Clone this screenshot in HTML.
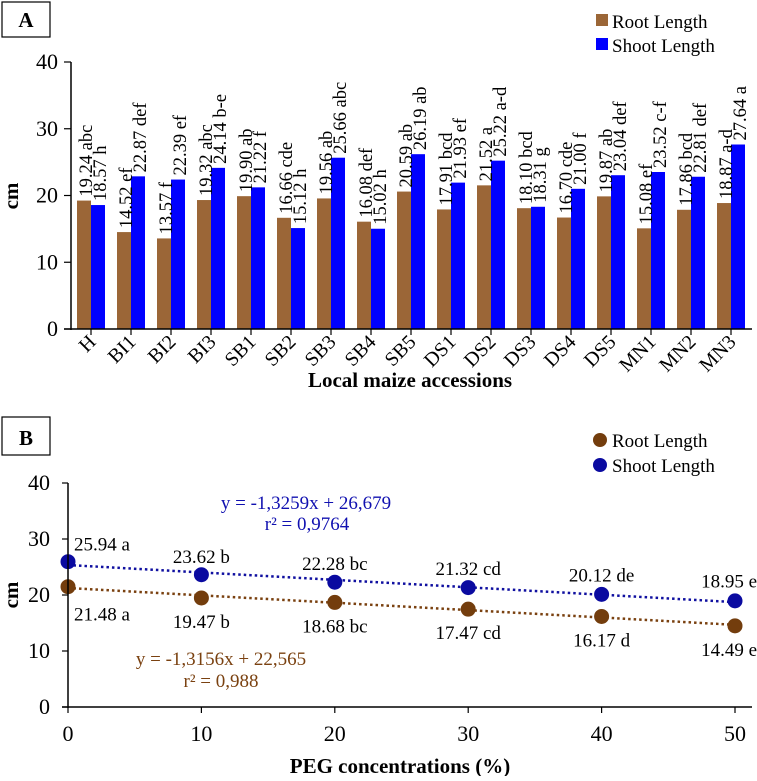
<!DOCTYPE html>
<html><head><meta charset="utf-8"><style>
body{margin:0;background:#fff;}
svg{font-family:"Liberation Serif",serif;}
</style></head><body>
<svg id="s" width="757" height="776" xmlns="http://www.w3.org/2000/svg"></svg>
<script>
const cats=["H","BI1","BI2","BI3","SB1","SB2","SB3","SB4","SB5","DS1","DS2","DS3","DS4","DS5","MN1","MN2","MN3"];
const rootVals=[19.24,14.52,13.57,19.32,19.90,16.66,19.56,16.08,20.59,17.91,21.52,18.10,16.70,19.87,15.08,17.86,18.87];
const shootVals=[18.57,22.87,22.39,24.14,21.22,15.12,25.66,15.02,26.19,21.93,25.22,18.31,21.00,23.04,23.52,22.81,27.64];
const rootLetters=["abc","ef","f","abc","ab","cde","ab","def","ab","bcd","a","bcd","cde","ab","ef","bcd","a-d"];
const shootLetters=["h","def","ef","b-e","f","h","abc","h","ab","ef","a-d","g","f","def","c-f","def","a"];
const yTicks=[0,10,20,30,40];
const pegX=[0,10,20,30,40,50];
const pegRoot=[21.48,19.47,18.68,17.47,16.17,14.49];
const pegShoot=[25.94,23.62,22.28,21.32,20.12,18.95];
const pegRootL=["a","b","bc","cd","d","e"];
const pegShootL=["a","b","bc","cd","de","e"];

const S=document.getElementById('s');
function el(t,a,txt){const e=document.createElementNS("http://www.w3.org/2000/svg",t);for(const k in a)e.setAttribute(k,a[k]);if(txt!=null)e.textContent=txt;S.appendChild(e);return e;}

// Panel A
const ay=v=>329-v*(267/40);
const ax=i=>91+i*40;
let e;
e=el('rect',{x:2,y:2,width:48,height:35,fill:'#fff',stroke:'#000','stroke-width':1.2});

e=el('text',{x:26,y:27,'font-size':21,'font-weight':'bold','text-anchor':'middle'},'A');

yTicks.forEach(t=>{
 e=el('line',{x1:64,x2:71,y1:ay(t),y2:ay(t),stroke:'#000','stroke-width':1.2});
 
 e=el('text',{x:58,y:ay(t)+7,'font-size':22,'text-anchor':'end'},t);
 
});
cats.forEach((c,i)=>{
 const x=ax(i);
 e=el('rect',{x:x-14,y:ay(rootVals[i]),width:14,height:ay(0)-ay(rootVals[i]),fill:'#9b6637'});
 
 e=el('rect',{x:x,y:ay(shootVals[i]),width:14,height:ay(0)-ay(shootVals[i]),fill:'#0000ff'});
 
 let ty=ay(rootVals[i])-4;
 e=el('text',{x:0,y:0,'font-size':18.5,transform:`translate(${x+1},${ty}) rotate(-90)`},rootVals[i].toFixed(2)+' '+rootLetters[i]);
 
 ty=ay(shootVals[i])-4;
 e=el('text',{x:0,y:0,'font-size':18.5,transform:`translate(${x+15},${ty}) rotate(-90)`},shootVals[i].toFixed(2)+' '+shootLetters[i]);
 
 e=el('line',{x1:x,x2:x,y1:329,y2:335,stroke:'#000','stroke-width':1.2});
 
 e=el('text',{x:0,y:0,'font-size':20,'text-anchor':'end',transform:`translate(${x+6},${343}) rotate(-45)`},c);
 
});
e=el('line',{x1:71,x2:71,y1:ay(40),y2:330,stroke:'#000','stroke-width':1.5});

e=el('line',{x1:64,x2:752,y1:329,y2:329,stroke:'#000','stroke-width':1.5});

e=el('text',{x:0,y:0,'font-size':21,'font-weight':'bold','text-anchor':'middle',transform:'translate(18,196) rotate(-90)'},'cm');

e=el('text',{x:410,y:387,'font-size':21,'font-weight':'bold','text-anchor':'middle'},'Local maize accessions');

e=el('rect',{x:596,y:14,width:12,height:12,fill:'#9b6637'});

e=el('text',{x:612,y:28,'font-size':19},'Root Length');

e=el('rect',{x:596,y:38,width:12,height:12,fill:'#0000ff'});

e=el('text',{x:612,y:52,'font-size':19},'Shoot Length');


// Panel B
const by=v=>707-v*(224/40);
const bx=v=>68+v*(667/50);
e=el('rect',{x:2,y:417,width:48,height:38,fill:'#fff',stroke:'#000','stroke-width':1.2});

e=el('text',{x:26,y:445,'font-size':21,'font-weight':'bold','text-anchor':'middle'},'B');

yTicks.forEach(t=>{
 e=el('line',{x1:62,x2:68,y1:by(t),y2:by(t),stroke:'#000','stroke-width':1.2});
 
 e=el('text',{x:50,y:by(t)+7,'font-size':22,'text-anchor':'end'},t);
 
});
pegX.forEach(v=>{
 e=el('line',{x1:bx(v),x2:bx(v),y1:707,y2:713,stroke:'#000','stroke-width':1.2});
 
 e=el('text',{x:bx(v),y:741,'font-size':22,'text-anchor':'middle'},v);
 
});
function fit(ys){const n=ys.length;let sx=0,sy=0,sxy=0,sxx=0;ys.forEach((y,i)=>{const x=i+1;sx+=x;sy+=y;sxy+=x*y;sxx+=x*x;});const m=(n*sxy-sx*sy)/(n*sxx-sx*sx);return [m,(sy-m*sx)/n];}
[[pegShoot,'#1010a0','shoot'],[pegRoot,'#7a4110','root']].forEach(([ys,col,nm])=>{
 const [m,b]=fit(ys);
 e=el('line',{x1:bx(pegX[0]),y1:by(m*1+b),x2:bx(pegX[pegX.length-1]),y2:by(m*pegX.length+b),stroke:col,'stroke-width':2.5,'stroke-dasharray':'2.5 3'});
 
});
pegX.forEach((v,i)=>{
 e=el('circle',{cx:bx(v),cy:by(pegShoot[i]),r:7.5,fill:'#0a0aa0'});
 
 e=el('circle',{cx:bx(v),cy:by(pegRoot[i]),r:7.5,fill:'#733d0d'});
 
 let sx=i===0?bx(v)+34:bx(v);
 const last=i===pegX.length-1;
 const anc=last?'end':'middle';
 if(last) sx=757;
 e=el('text',{x:sx,y:by(pegShoot[i])-11-i*0.5,'font-size':19,'text-anchor':anc},pegShoot[i].toFixed(2)+' '+pegShootL[i]);
 
 e=el('text',{x:sx,y:by(pegRoot[i])+(i===0?34:30),'font-size':19,'text-anchor':anc},pegRoot[i].toFixed(2)+' '+pegRootL[i]);
 
});
e=el('line',{x1:68,x2:68,y1:by(40),y2:708,stroke:'#000','stroke-width':1.5});

e=el('line',{x1:62,x2:752,y1:707,y2:707,stroke:'#000','stroke-width':1.5});

e=el('text',{x:306,y:509,'font-size':19,fill:'#1010b0','text-anchor':'middle'},'y = -1,3259x + 26,679');

e=el('text',{x:307,y:530,'font-size':19,fill:'#1010b0','text-anchor':'middle'},'r² = 0,9764');

e=el('text',{x:221,y:665,'font-size':19,fill:'#7a4110','text-anchor':'middle'},'y = -1,3156x + 22,565');

e=el('text',{x:221,y:687,'font-size':19,fill:'#7a4110','text-anchor':'middle'},'r² = 0,988');

e=el('text',{x:0,y:0,'font-size':21,'font-weight':'bold','text-anchor':'middle',transform:'translate(18,595) rotate(-90)'},'cm');

e=el('text',{x:400,y:773,'font-size':21,'font-weight':'bold','text-anchor':'middle'},'PEG concentrations (%)');

e=el('circle',{cx:600,cy:440,r:7,fill:'#733d0d'});

e=el('text',{x:612,y:447,'font-size':19},'Root Length');

e=el('circle',{cx:600,cy:465,r:7,fill:'#0a0aa0'});

e=el('text',{x:612,y:472,'font-size':19},'Shoot Length');

</script>
</body></html>
